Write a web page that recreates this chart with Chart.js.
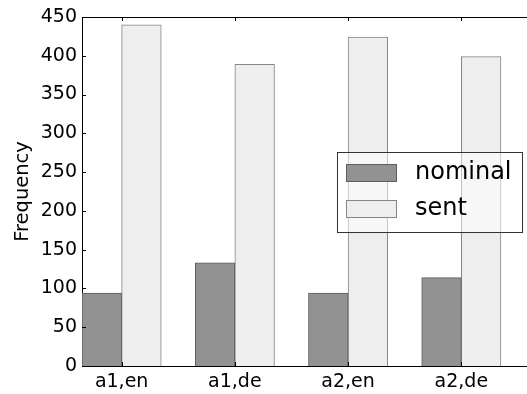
<!DOCTYPE html>
<html>
<head>
<meta charset="utf-8">
<script src="https://cdn.jsdelivr.net/npm/chart.js@4/dist/chart.umd.min.js"></script>
<style>
  html, body { margin: 0; padding: 0; background: #fff; overflow: hidden; }
  #wrap { width: 527px; height: 394px; }
</style>
</head>
<body>
<div id="wrap"><canvas id="c" width="527" height="394"></canvas></div>
<script>
const CATEGORIES = ['a1,en', 'a1,de', 'a2,en', 'a2,de'];
const NOMINAL = [94, 133, 94, 114];
const SENT = [440, 389, 424, 399];
const Y_TICKS = [0, 50, 100, 150, 200, 250, 300, 350, 400, 450];

const BAR_W = 0.35;
const FONT = 'DejaVu Sans';

// inward ticks + top spine, matplotlib classic look
const frame = {
    id: 'frame',
    afterDatasetsDraw(chart) {
        const { ctx, chartArea: a, scales: { x, y } } = chart;
        ctx.save();
        ctx.strokeStyle = '#000';
        ctx.lineWidth = 1;
        ctx.beginPath();
        ctx.moveTo(a.left, a.top + 0.5);
        ctx.lineTo(a.right, a.top + 0.5);
        y.ticks.forEach(t => {
            const py = Math.round(y.getPixelForValue(t.value)) + 0.5;
            ctx.moveTo(a.left, py);
            ctx.lineTo(a.left + 4, py);
        });
        x.ticks.forEach(t => {
            const px = Math.round(x.getPixelForValue(t.value)) + 0.5;
            ctx.moveTo(px, a.top);
            ctx.lineTo(px, a.top + 4);
            ctx.moveTo(px, a.bottom);
            ctx.lineTo(px, a.bottom - 4);
        });
        ctx.stroke();
        ctx.restore();
    },
    afterDraw(chart) {
        const { ctx } = chart;
        const box = { x: 337, y: 152, w: 185, h: 80 };
        ctx.save();
        ctx.fillStyle = 'rgba(255,255,255,0.5)';
        ctx.fillRect(box.x, box.y, box.w, box.h);
        ctx.strokeStyle = '#333';
        ctx.lineWidth = 1;
        ctx.strokeRect(box.x + 0.5, box.y + 0.5, box.w, box.h);
        chart.data.datasets.forEach((ds, i) => {
            const sy = 164 + i * 36;
            ctx.fillStyle = ds.backgroundColor;
            ctx.fillRect(346, sy, 50, 17);
            ctx.strokeStyle = ds.borderColor;
            ctx.strokeRect(346.5, sy + 0.5, 50, 17);
            ctx.fillStyle = '#000';
            ctx.font = `24px "${FONT}"`;
            ctx.textBaseline = 'middle';
            ctx.fillText(ds.label, 415, sy + 9);
        });
        ctx.restore();
    }
};

new Chart(document.getElementById('c'), {
    type: 'bar',
    data: {
        datasets: [
            {
                label: 'nominal',
                data: NOMINAL.map((v, i) => ({ x: i + BAR_W / 2, y: v })),
                backgroundColor: '#929292',
                borderColor: '#5e5e5e',
                borderWidth: 1,
            },
            {
                label: 'sent',
                data: SENT.map((v, i) => ({ x: i + BAR_W * 1.5, y: v })),
                backgroundColor: '#eeeeee',
                borderColor: '#858585',
                borderWidth: 1,
            }
        ]
    },
    options: {
        responsive: false,
        animation: false,
        grouped: false,
        barPercentage: 1,
        categoryPercentage: 1,
        layout: { padding: { top: 17, right: 0, left: 0, bottom: 0 } },
        plugins: { legend: { display: false }, tooltip: { enabled: false } },
        scales: {
            x: {
                type: 'linear',
                offset: false,
                bounds: 'ticks',
                min: 0,
                max: 3.93,
                grid: { display: false, drawTicks: false, offset: false },
                border: { color: '#000', width: 1 },
                afterBuildTicks: s => { s.ticks = CATEGORIES.map((_, i) => ({ value: i + BAR_W })); },
                afterFit: s => { s.height = 28; },
                ticks: {
                    autoSkip: false,
                    maxRotation: 0,
                    padding: 5,
                    color: '#000',
                    font: { family: FONT, size: 19 },
                    callback: (v) => CATEGORIES[Math.round(v - BAR_W)],
                }
            },
            y: {
                min: 0,
                max: 450,
                grid: { display: false, drawTicks: false },
                border: { color: '#000', width: 1 },
                afterBuildTicks: s => { s.ticks = Y_TICKS.map(v => ({ value: v })); },
                afterFit: s => { s.width = 82; },
                title: {
                    display: true,
                    text: 'Frequency',
                    color: '#000',
                    font: { family: FONT, size: 19.5 },
                    padding: { top: 11, bottom: 0 },
                },
                ticks: {
                    padding: 5,
                    color: '#000',
                    font: { family: FONT, size: 19 },
                }
            }
        }
    },
    plugins: [frame]
});
</script>
</body>
</html>
